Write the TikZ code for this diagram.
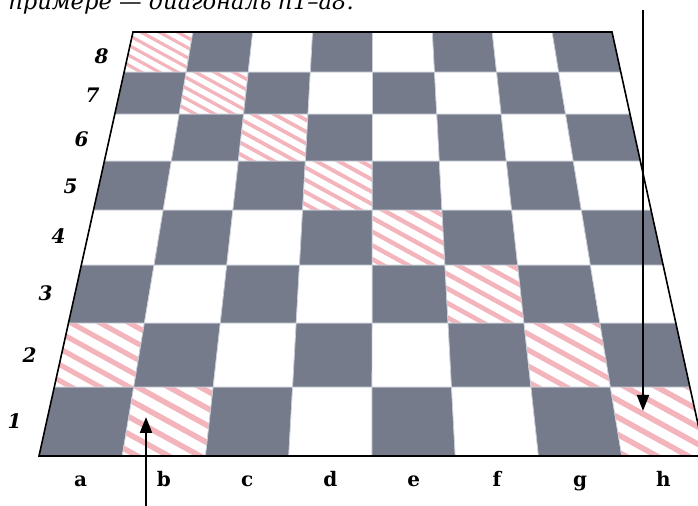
\documentclass[tikz,border=0pt]{standalone}
\usepackage{fontspec}
\setmainfont{DejaVu Serif}
\usetikzlibrary{arrows.meta}

\definecolor{sqdark}{HTML}{757B8B}
\definecolor{hatchpink}{HTML}{F4B4BC}
\definecolor{gridgray}{HTML}{CBCFD8}

% x of file line #1 (0..8) at screen height #2
\pgfmathdeclarefunction{colx}{2}{\pgfmathparse{133+59.875*#1+(-94+23.375*#1)*((#2-32)/424)}}

\tikzset{
  boardedge/.style={line width=0.8pt, black, line join=miter},
  gridline/.style={gridgray, line width=0.35pt},
  pointer/.style={line width=1pt, -{Triangle[length=8pt,width=6pt]}},
  rowlabel/.style={font=\bfseries\itshape, anchor=base east, inner sep=0pt},
  collabel/.style={font=\bfseries, anchor=base, inner sep=0pt},
}

\begin{document}
\begin{tikzpicture}[x=0.5pt,y=-0.5pt]
	\useasboundingbox (0,0) rectangle (698,506);
	
	% Caption line, cut at the top
	\node[anchor=base west, font=\fontsize{11.3}{13}\selectfont\itshape, inner sep=0pt] (caption) at (8,10) {примере — диагональ h1–a8.};
	
	% Squares
	\foreach \c in {0,...,7}{
		\foreach \r in {0,...,7}{
			\pgfmathsetmacro\yb{{456,387,323,265,210,161,114,72,32}[\r]}
			\pgfmathsetmacro\yt{{456,387,323,265,210,161,114,72,32}[\r+1]}
			\pgfmathsetmacro\xbl{colx(\c,\yb)}
			\pgfmathsetmacro\xbr{colx(\c+1,\yb)}
			\pgfmathsetmacro\xtl{colx(\c,\yt)}
			\pgfmathsetmacro\xtr{colx(\c+1,\yt)}
			\pgfmathtruncatemacro\s{\c+\r}
			\pgfmathtruncatemacro\odd{mod(\s,2)}
			\ifnum\odd=0
				\fill[sqdark] (\xbl,\yb) -- (\xbr,\yb) -- (\xtr,\yt) -- (\xtl,\yt) -- cycle;
			\else
				\fill[white] (\xbl,\yb) -- (\xbr,\yb) -- (\xtr,\yt) -- (\xtl,\yt) -- cycle;
				% Hatched squares on the diagonals b1-a2 and h1-a8
				\ifnum\s=1 \def\hatch{1}\else\ifnum\s=7 \def\hatch{1}\else\def\hatch{0}\fi\fi
				\ifnum\hatch=1
					\begin{scope}
						\clip (\xbl,\yb) -- (\xbr,\yb) -- (\xtr,\yt) -- (\xtl,\yt) -- cycle;
						\pgfmathsetmacro\per{(\yb-\yt)/4}
						\pgfmathsetmacro\lw{0.16*\per}
						\pgfmathsetmacro\xc{(\xbl+\xbr+\xtl+\xtr)/4}
						\pgfmathsetmacro\yc{(\yb+\yt)/2}
						\foreach \k in {-8,...,8}
							\draw[hatchpink, line width=\lw pt] (\xc-70,\yc+\k*\per-38.5) -- (\xc+70,\yc+\k*\per+38.5);
					\end{scope}
				\fi
			\fi
			\draw[gridline] (\xbl,\yb) -- (\xbr,\yb) -- (\xtr,\yt) -- (\xtl,\yt) -- cycle;
		}
	}
	
	% Board outline
	\coordinate (tl) at (133,32);
	\coordinate (tr) at (612,32);
	\coordinate (br) at (705,456);
	\coordinate (bl) at (39,456);
	\draw[boardedge] (tl) -- (tr) -- (br) -- (bl) -- cycle;
	
	% Rank numbers
	\foreach \n/\x/\y in {1/22/429, 2/37/363, 3/53/301, 4/66/244, 5/78/194, 6/89/147, 7/100/103, 8/109/64}
		\node[rowlabel] (rank\n) at (\x,\y) {\n};
	
	% File letters
	\foreach \l [count=\i from 0] in {a,b,c,d,e,f,g,h}
		\node[collabel] (file\l) at ({39+83.25*(\i+0.5)},487) {\l};
	
	% Arrows to h1 and b1
	\coordinate (hin) at (643,10);
	\coordinate (hpoint) at (643,411);
	\draw[pointer] (hin) -- (hpoint);
	\coordinate (bin) at (146,506);
	\coordinate (bpoint) at (146,417);
	\draw[pointer] (bin) -- (bpoint);
\end{tikzpicture}
\end{document}
